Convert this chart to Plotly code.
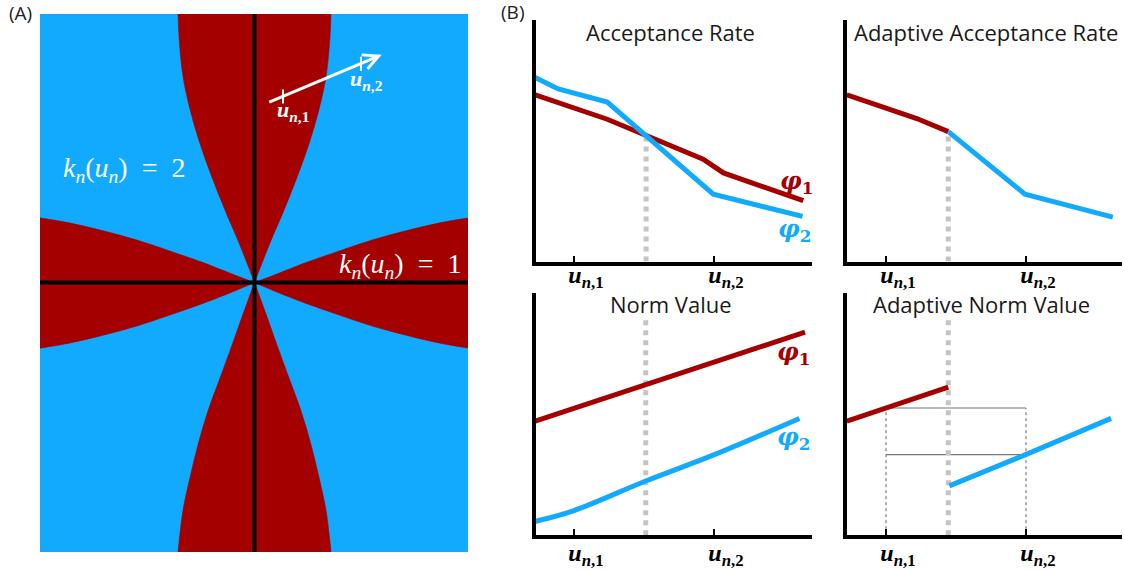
import numpy as np
import plotly.graph_objects as go

W, H = 1124, 570
RED = "#a50000"
BLUE = "#12aaff"
GRAY_DOT = "#c4c4c4"

# ---------------- Panel A data (region k_n(u_n)=1 boundaries, units ~ px around origin) -------------
V_UP_U2 = [0, 41, 74, 107, 141, 174, 207, 240, 270]
V_UP_HALF = [0, 16, 30, 43, 55, 64.5, 71.5, 75, 76.5]
V_DN_U2 = [0, -29, -63, -96, -129, -163, -196, -229, -271]
V_DN_HALF = [0, 10.5, 22.5, 34.5, 46.5, 56.5, 64.5, 71.5, 76.5]
H_U1 = [0, 18.5, 51.5, 85.5, 118.5, 151.5, 185.5, 214.5]
H_UP = [0, 7, 20, 32, 43, 52, 60, 65]
H_DN = [0, -8, -21, -33, -44, -53, -61, -66]
A_XRANGE = [-214.5, 213.5]
A_YRANGE = [-271, 270]
ARROW_START = (13.2, 180.7)
ARROW_END = (127.2, 229.0)
U_N1_PT = (28.5, 187.0)
U_N2_PT = (106.5, 220.0)

# ---------------- Panel B data -------------
U_TICKS = [1, 5]
U_TICK_TEXT = ["<b><i>u</i><sub><i>n</i>,1</sub></b>", "<b><i>u</i><sub><i>n</i>,2</sub></b>"]

AR_X_PHI1 = [-0.11, 1.95, 4.69, 5.27, 7.55]
AR_Y_PHI1 = [0.690, 0.589, 0.424, 0.367, 0.252]
AR_X_PHI2 = [-0.11, 0.55, 1.95, 4.98, 7.53]
AR_Y_PHI2 = [0.762, 0.714, 0.660, 0.279, 0.187]
AR_SPLIT = 3.06

AAR_X_PHI1 = [-0.12, 1.88, 2.78]
AAR_Y_PHI1 = [0.690, 0.592, 0.538]
AAR_X_PHI2 = [2.78, 4.97, 7.48]
AAR_Y_PHI2 = [0.538, 0.279, 0.184]
AAR_SPLIT = 2.78

NV_X_PHI1 = [-0.11, 7.6]
NV_Y_PHI1 = [0.472, 0.840]
NV_X_PHI2 = [-0.11, 1.0, 3.05, 5.01, 7.44]
NV_Y_PHI2 = [0.057, 0.102, 0.224, 0.333, 0.483]
NV_SPLIT = 3.05
NV_DOT_TOP = 0.91

ANV_X_PHI1 = [-0.12, 2.78]
ANV_Y_PHI1 = [0.472, 0.612]
ANV_X_PHI2 = [2.81, 4.99, 7.43]
ANV_Y_PHI2 = [0.204, 0.333, 0.483]
ANV_SPLIT = 2.78
ANV_DOT_TOP = 0.89

TITLES = ["Acceptance Rate", "Adaptive Acceptance Rate", "Norm Value", "Adaptive Norm Value"]

fig = go.Figure()

# ---------- Panel A ----------
def boundary(xs, ys, fill=None):
    fig.add_trace(go.Scatter(x=xs, y=ys, mode="lines", fill=fill,
                             fillcolor=RED if fill else None,
                             line=dict(width=0.6, color=RED, shape="spline", smoothing=1.0),
                             hoverinfo="skip", showlegend=False, xaxis="x5", yaxis="y5"))

vu_h = np.array(V_UP_HALF)
boundary(-vu_h, V_UP_U2)
boundary(vu_h, V_UP_U2, fill="tonextx")
vd_h = np.array(V_DN_HALF)
boundary(-vd_h, V_DN_U2)
boundary(vd_h, V_DN_U2, fill="tonextx")
h_x = np.array(H_U1)
for sgn in (-1, 1):
    boundary(sgn * h_x, H_UP)
    boundary(sgn * h_x, H_DN, fill="tonexty")

# arrow tick marks
fig.add_trace(go.Scatter(x=[U_N1_PT[0], U_N2_PT[0]], y=[U_N1_PT[1], U_N2_PT[1]], mode="markers",
                         marker=dict(symbol="line-ns", size=10, line=dict(width=2, color="white")),
                         hoverinfo="skip", showlegend=False, xaxis="x5", yaxis="y5"))

# ---------- Panel B ----------
def line(xs, ys, color, ax, shape="linear"):
    fig.add_trace(go.Scatter(x=xs, y=ys, mode="lines",
                             line=dict(color=color, width=5, shape=shape),
                             hoverinfo="skip", showlegend=False, xaxis="x" + ax, yaxis="y" + ax))

def dotted(xv, top, ax, color=GRAY_DOT, width=5):
    fig.add_trace(go.Scatter(x=[xv, xv], y=[0, top], mode="lines",
                             line=dict(color=color, width=width, dash="dot"),
                             hoverinfo="skip", showlegend=False, xaxis="x" + ax, yaxis="y" + ax))

# top-left
dotted(AR_SPLIT, float(np.interp(AR_SPLIT, AR_X_PHI1, AR_Y_PHI1)) - 0.01, "")
line(AR_X_PHI1, AR_Y_PHI1, RED, "")
line(AR_X_PHI2, AR_Y_PHI2, BLUE, "")
# top-right
dotted(AAR_SPLIT, AAR_Y_PHI1[-1] - 0.01, "2")
line(AAR_X_PHI1, AAR_Y_PHI1, RED, "2")
line(AAR_X_PHI2, AAR_Y_PHI2, BLUE, "2")
# bottom-left
dotted(NV_SPLIT, NV_DOT_TOP, "3")
line(NV_X_PHI1, NV_Y_PHI1, RED, "3")
line(NV_X_PHI2, NV_Y_PHI2, BLUE, "3", shape="spline")
# bottom-right
h1 = float(np.interp(U_TICKS[0], ANV_X_PHI1, ANV_Y_PHI1))
h2 = float(np.interp(U_TICKS[1], ANV_X_PHI2, ANV_Y_PHI2))
for xv in U_TICKS:
    dotted(xv, h1, "4", color="#666666", width=1)
for hv in (h1, h2):
    fig.add_trace(go.Scatter(x=U_TICKS, y=[hv, hv], mode="lines", line=dict(color="#777777", width=1.2),
                             hoverinfo="skip", showlegend=False, xaxis="x4", yaxis="y4"))
dotted(ANV_SPLIT, ANV_DOT_TOP, "4")
line(ANV_X_PHI1, ANV_Y_PHI1, RED, "4")
line(ANV_X_PHI2, ANV_Y_PHI2, BLUE, "4")

# ---------- axes ----------
def px_x(p):
    return p / W

def px_y(p):
    return (H - p) / H

LEFT_COL = (536, 812)
RIGHT_COL = (847, 1122)
TOP_ROW = (263, 20)
BOT_ROW = (538, 295)

def xr(col_left, tick1_px, right_px):
    s = (U_TICKS[1] - U_TICKS[0]) / 140.0
    return [U_TICKS[0] + (col_left - tick1_px) * s, U_TICKS[0] + (right_px - tick1_px) * s]

layout_axes = {}
panels = [("", LEFT_COL, TOP_ROW, 574, -11), ("2", RIGHT_COL, TOP_ROW, 886, -11),
          ("3", LEFT_COL, BOT_ROW, 574, -7), ("4", RIGHT_COL, BOT_ROW, 886, -7)]
for ax, col, row, t1, so in panels:
    layout_axes["xaxis" + ax] = dict(
        domain=[px_x(col[0]), px_x(col[1])], range=xr(col[0], t1, col[1]),
        showline=True, linecolor="black", linewidth=4, ticks="inside", ticklen=6, tickwidth=2,
        tickcolor="black", tickvals=U_TICKS, ticktext=["\u2003" + t for t in U_TICK_TEXT],
        tickfont=dict(family="Liberation Serif", size=24, color="black"), ticklabelstandoff=so,
        showgrid=False, zeroline=False, anchor="y" + ax, fixedrange=True)
    layout_axes["yaxis" + ax] = dict(
        domain=[px_y(row[0]), px_y(row[1])], range=[0, 1], showline=True, linecolor="black",
        linewidth=4, showticklabels=False, ticks="", showgrid=False, zeroline=False,
        anchor="x" + ax, fixedrange=True)

layout_axes["xaxis5"] = dict(domain=[px_x(40), px_x(468)], range=A_XRANGE, visible=False,
                             anchor="y5", fixedrange=True)
layout_axes["yaxis5"] = dict(domain=[px_y(555), px_y(14)], range=A_YRANGE, visible=False,
                             anchor="x5", fixedrange=True)

shapes = [
    dict(type="rect", xref="x5 domain", yref="y5 domain", x0=0, x1=1, y0=0, y1=1,
         fillcolor=BLUE, line=dict(width=0), layer="below"),
    dict(type="line", xref="x5", yref="y5 domain", x0=0, x1=0, y0=0, y1=1,
         line=dict(color="black", width=4), layer="above"),
    dict(type="line", xref="x5 domain", yref="y5", x0=0, x1=1, y0=0, y1=0,
         line=dict(color="black", width=4), layer="above"),
]

annotations = []
# arrow
annotations.append(dict(x=ARROW_END[0], y=ARROW_END[1], ax=ARROW_START[0], ay=ARROW_START[1],
                        xref="x5", yref="y5", axref="x5", ayref="y5", showarrow=True,
                        arrowhead=5, arrowsize=1, arrowwidth=3, arrowcolor="white", text=""))
annotations.append(dict(x=U_N1_PT[0] + 10, y=U_N1_PT[1] - 15, xref="x5", yref="y5", showarrow=False,
                        xanchor="center", yanchor="middle",
                        text=U_TICK_TEXT[0], font=dict(family="Liberation Serif", size=22, color="white")))
annotations.append(dict(x=U_N2_PT[0] + 5, y=U_N2_PT[1] - 16, xref="x5", yref="y5", showarrow=False,
                        xanchor="center", yanchor="middle",
                        text=U_TICK_TEXT[1], font=dict(family="Liberation Serif", size=22, color="white")))
annotations.append(dict(x=-131, y=114, xref="x5", yref="y5", showarrow=False,
                        xanchor="center", yanchor="middle",
                        text="<i>k</i><sub><i>n</i></sub>(<i>u</i><sub><i>n</i></sub>)\u2002=\u20022",
                        font=dict(family="Liberation Serif", size=28, color="white")))
annotations.append(dict(x=145.5, y=17, xref="x5", yref="y5", showarrow=False,
                        xanchor="center", yanchor="middle",
                        text="<i>k</i><sub><i>n</i></sub>(<i>u</i><sub><i>n</i></sub>)\u2002=\u20021",
                        font=dict(family="Liberation Serif", size=28, color="white")))

# panel labels
annotations.append(dict(x=px_x(7), y=px_y(13), xref="paper", yref="paper", xanchor="left",
                        yanchor="middle", showarrow=False, text="(A)",
                        font=dict(family="Open Sans", size=19, color="#222")))
annotations.append(dict(x=px_x(499), y=px_y(12), xref="paper", yref="paper", xanchor="left",
                        yanchor="middle", showarrow=False, text="(B)",
                        font=dict(family="Open Sans", size=19, color="#222")))

# subplot titles
title_pos = [(670, 32), (986, 32), (671, 306), (981, 306)]
for t, (tx, ty) in zip(TITLES, title_pos):
    annotations.append(dict(x=px_x(tx), y=px_y(ty), xref="paper", yref="paper", showarrow=False,
                            xanchor="center", yanchor="middle",
                            text=t, font=dict(family="Open Sans", size=22, color="#1a1a1a")))

# phi labels
phi_lbls = [("", 7.37, 0.33, RED, "1"), ("", 7.31, 0.13, BLUE, "2"),
            ("3", 7.26, 0.755, RED, "1"), ("3", 7.26, 0.40, BLUE, "2")]
for ax, x, y, c, k in phi_lbls:
    annotations.append(dict(x=x, y=y, xref="x" + ax, yref="y" + ax, showarrow=False,
                            xanchor="center", yanchor="middle",
                            text="<b><i>φ</i></b><sub><b>" + k + "</b></sub>",
                            font=dict(family="DejaVu Serif", size=24, color=c)))

fig.update_layout(width=W, height=H, margin=dict(l=0, r=0, t=0, b=0),
                  paper_bgcolor="white", plot_bgcolor="white", showlegend=False,
                  shapes=shapes, annotations=annotations, **layout_axes)

fig.write_html("out.html", config={"displayModeBar": False})
